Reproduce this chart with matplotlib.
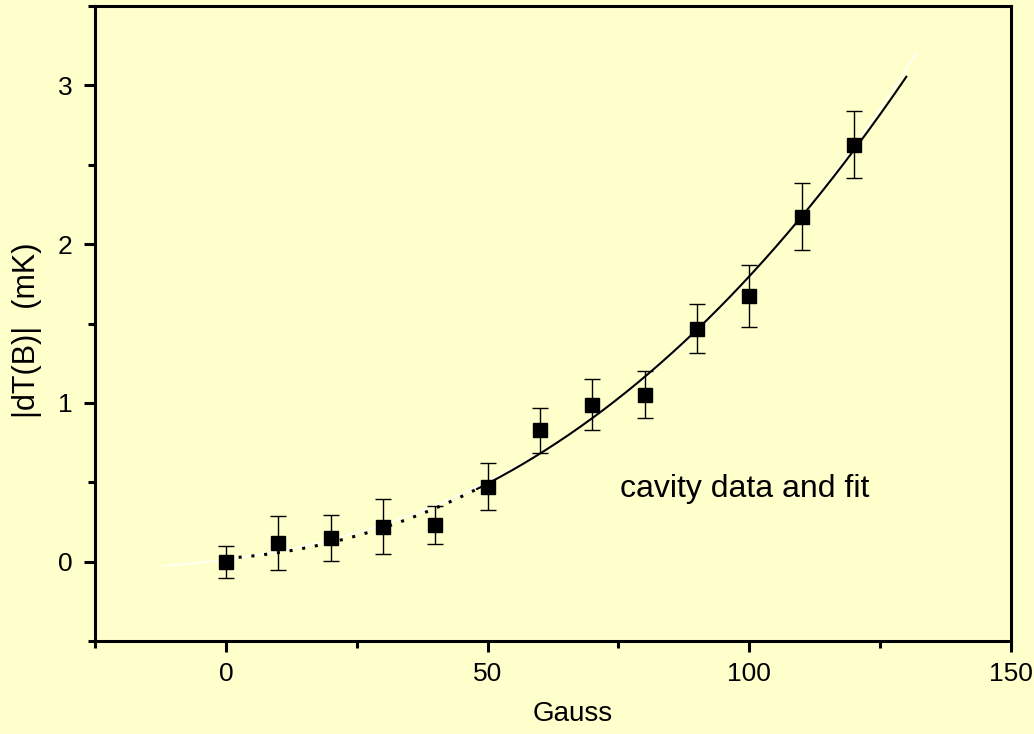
import matplotlib
matplotlib.use("Agg")
import matplotlib.pyplot as plt
import numpy as np

plt.rcParams['font.family'] = ['Liberation Sans', 'DejaVu Sans']

# measured data (Gauss, |dT(B)| in mK)
gauss = [0, 10, 20, 30, 40, 50, 60, 70, 80, 90, 100, 110, 120]
dT = [0.0, 0.116, 0.148, 0.221, 0.23, 0.472, 0.827, 0.989, 1.052, 1.467, 1.673, 2.174, 2.626]
dT_err = [0.10, 0.17, 0.145, 0.175, 0.12, 0.148, 0.143, 0.162, 0.148, 0.155, 0.195, 0.21, 0.21]

# fit curve (black line, 0..130)
fit_x = [0, 10, 20, 30, 40, 50, 60, 70, 80, 90, 100, 110, 120, 130]
fit_y = [0.02, 0.057, 0.116, 0.22, 0.337, 0.49, 0.684, 0.894, 1.158, 1.473, 1.795, 2.17, 2.6, 3.05]

# thin white curve underneath (-12..132)
white_x = [-12, 0, 10, 20, 30, 40, 50, 60, 80, 100, 120, 132]
white_y = [-0.038, 0.017, 0.074, 0.148, 0.238, 0.352, 0.48, 0.68, 1.16, 1.8, 2.62, 3.2]

dotted_end = 48  # fit drawn dotted below this field

bg = '#FFFFCC'

fig = plt.figure(figsize=(10.34, 7.34), dpi=100, facecolor=bg)
ax = fig.add_axes([95 / 1034, 93 / 734, 916 / 1034, 635 / 734])
ax.set_facecolor(bg)

# white curve
wc = np.polyfit(white_x, white_y, 3)
wx = np.linspace(white_x[0], white_x[-1], 300)
ax.plot(wx, np.polyval(wc, wx), color='white', lw=1.0, zorder=2)

# black fit, dotted then solid
fc = np.polyfit(fit_x, fit_y, 3)
x1 = np.linspace(fit_x[0], dotted_end, 150)
x2 = np.linspace(dotted_end, fit_x[-1], 300)
ax.plot(x1, np.polyval(fc, x1), color='black', lw=2.2, ls=(0, (1, 3.2)), zorder=3)
ax.plot(x2, np.polyval(fc, x2), color='black', lw=1.5, zorder=3)

ax.errorbar(gauss, dT, yerr=dT_err, fmt='s', color='black', ms=9.5,
            ecolor='black', elinewidth=1.0, capsize=5.5, capthick=1.0, zorder=4)

ax.text(75.3, 0.41, 'cavity data and fit', fontsize=23, va='baseline', ha='left')

ax.set_xlim(-25, 150)
ax.set_ylim(-0.5, 3.5)
ax.set_xticks([0, 50, 100, 150])
ax.set_xticks([-25, 25, 75, 125], minor=True)
ax.set_yticks([0, 1, 2, 3])
ax.set_yticks([-0.5, 0.5, 1.5, 2.5, 3.5], minor=True)

for s in ax.spines.values():
    s.set_linewidth(2.2)
ax.tick_params(which='major', direction='out', length=8, width=2.2, labelsize=19)
ax.tick_params(which='minor', direction='out', length=5, width=2.2)
ax.tick_params(axis='x', which='major', pad=7)
ax.tick_params(axis='y', which='major', pad=8)

ax.set_xlabel('Gauss', fontsize=20)
ax.set_ylabel('|dT(B)|  (mK)', fontsize=22)
ax.xaxis.set_label_coords(0.521, -0.095)
ax.yaxis.set_label_coords(-0.058, 0.49)

fig.savefig('out.png', dpi=100, facecolor=bg)
